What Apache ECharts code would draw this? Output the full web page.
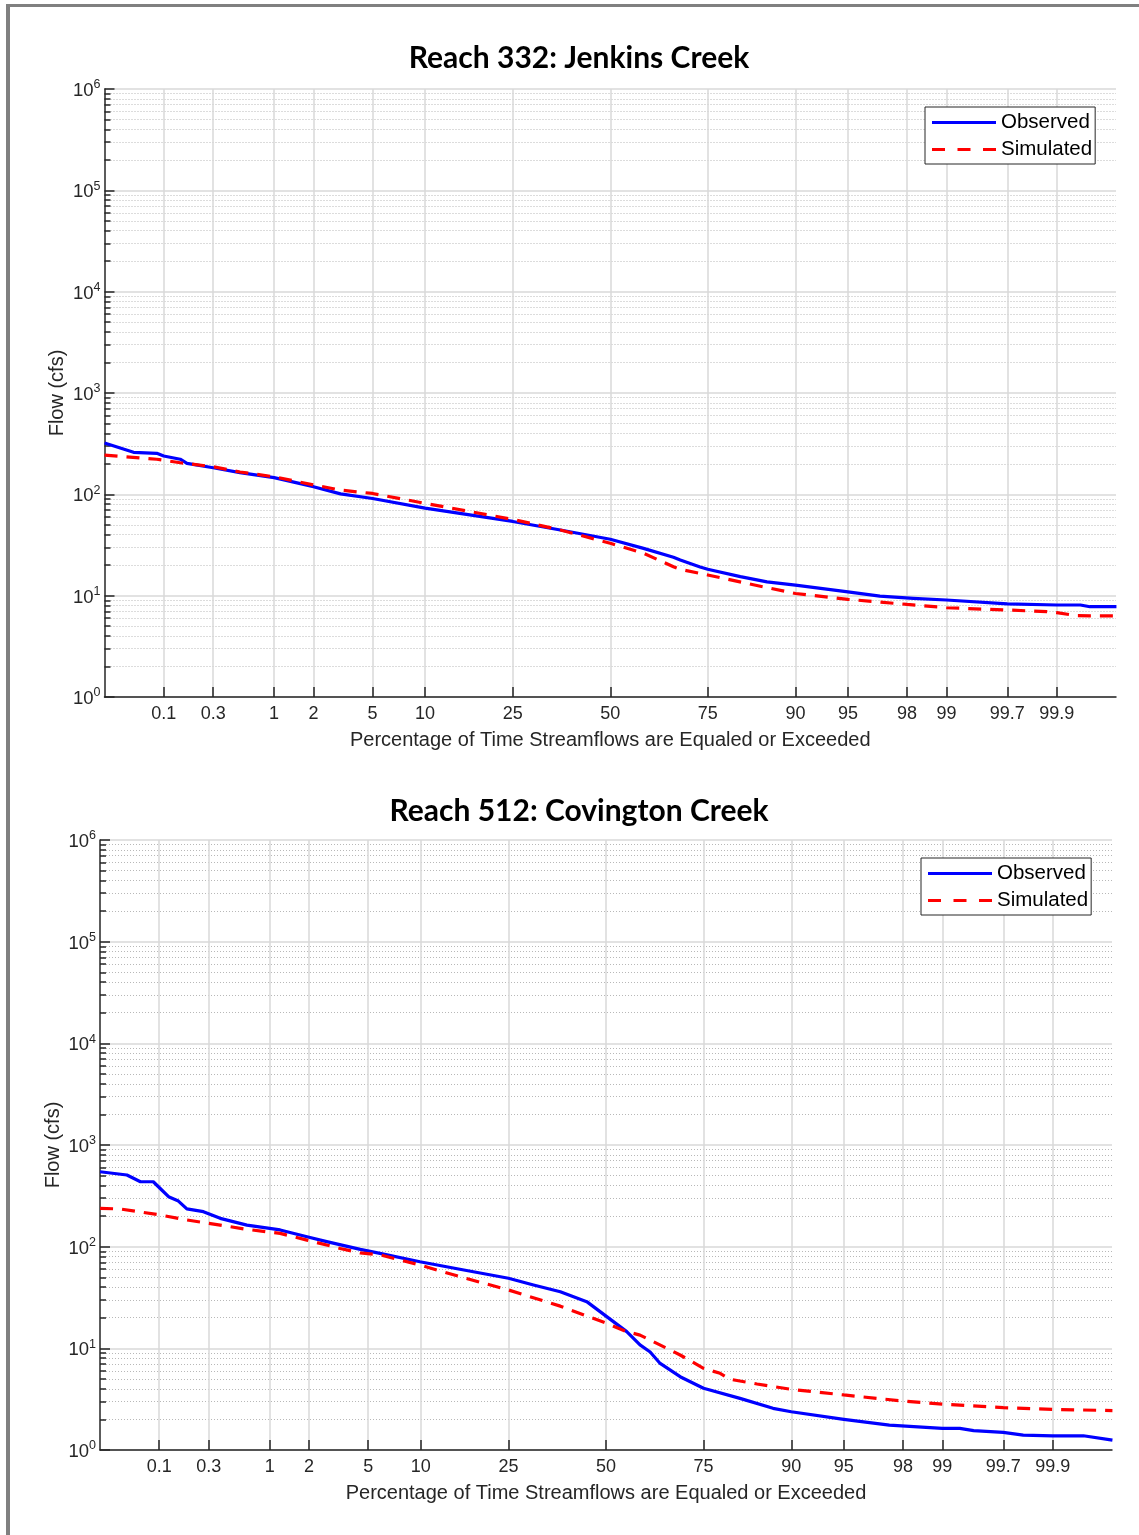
<!DOCTYPE html>
<html>
<head>
<meta charset="utf-8">
<title>Flow Duration Curves</title>
<script src="https://cdn.jsdelivr.net/npm/echarts@6/dist/echarts.min.js"></script>
<style>
  html, body { margin: 0; padding: 0; background: #ffffff; }
  #chart { width: 1139px; height: 1535px; }
</style>
</head>
<body>
<div id="chart"></div>
<script>
// Exceedance-probability ticks (percent of time)
const tickPercents = [0.1, 0.3, 1, 2, 5, 10, 25, 50, 75, 90, 95, 98, 99, 99.7, 99.9];
const tickLabels = ['0.1', '0.3', '1', '2', '5', '10', '25', '50', '75', '90', '95', '98', '99', '99.7', '99.9'];

// Reach 332: Jenkins Creek
const jenkinsObsPct = [0.0233, 0.0485, 0.085, 0.1, 0.146, 0.17, 0.3, 0.52, 1, 2, 3.1, 5, 10, 25, 36.5, 50, 59.1, 66.9, 68.6, 73.3, 75, 81.6, 86.1, 90, 95, 96.9, 98.2, 99, 99.7, 99.9, 99.943, 99.955, 99.977];
const jenkinsObsFlow = [321, 260, 254, 239, 222, 202, 183, 164, 146, 119, 101, 91, 73, 54, 44.5, 36, 29.3, 23.9, 22.5, 19.2, 18.2, 15.4, 13.7, 12.7, 10.9, 9.9, 9.4, 9.06, 8.3, 8.09, 8.09, 7.78, 7.78];
const jenkinsSimPct = [0.0233, 0.085, 0.146, 0.3, 0.52, 1, 2, 3.1, 5, 10, 25, 36.5, 50, 59.1, 66.9, 68.6, 73.3, 75, 82.8, 90, 95, 98, 99, 99.7, 99.874, 99.9, 99.938, 99.977];
const jenkinsSimFlow = [244, 222, 205, 187, 166, 149, 124, 110, 102, 81.5, 56.6, 44.5, 32.9, 26.2, 19.3, 18.2, 16.6, 16.0, 13.2, 10.5, 9.2, 8.2, 7.6, 7.22, 6.95, 6.8, 6.35, 6.3];

// Reach 512: Covington Creek
const covingtonObsPct = [0.0233, 0.046, 0.064, 0.087, 0.106, 0.124, 0.155, 0.187, 0.268, 0.381, 0.65, 1.21, 1.93, 2.67, 4.46, 5.9, 9.9, 15.6, 25, 30.8, 37.6, 44.7, 50.2, 55.7, 59.3, 62.0, 64.6, 69.6, 75, 82.3, 87.6, 90, 95, 97.5, 99, 99.28, 99.45, 99.7, 99.805, 99.9, 99.952, 99.977];
const covingtonObsFlow = [546, 507, 435, 435, 361, 310, 281, 235, 221, 190, 163, 146, 125, 112, 94, 86, 71, 59.9, 48.9, 42, 36, 28.8, 20.5, 14.6, 10.8, 9.2, 7.1, 5.26, 4.05, 3.22, 2.57, 2.38, 2.0, 1.76, 1.63, 1.63, 1.55, 1.49, 1.40, 1.38, 1.38, 1.25];
const covingtonSimPct = [0.0233, 0.039, 0.102, 0.187, 0.381, 0.65, 1.21, 1.93, 3.3, 4.46, 5.9, 9.9, 15.6, 25, 37.6, 50.2, 55.7, 59.3, 69.6, 75, 78.5, 80.5, 85.2, 90, 95, 98, 99, 99.7, 99.9, 99.977];
const covingtonSimFlow = [238, 235, 205, 183, 163, 148, 135, 116, 96, 87, 83, 66, 50.7, 37.5, 26, 17.6, 14.6, 13.5, 8.6, 6.36, 5.68, 4.96, 4.46, 3.95, 3.48, 3.03, 2.83, 2.61, 2.51, 2.44];

// Inverse standard normal CDF (Acklam's rational approximation),
// used to place exceedance percentages on a normal-probability axis.
function probit(p) {
  const a = [-39.69683028665376, 220.9460984245205, -275.9285104469687, 138.3577518672690, -30.66479806614716, 2.506628277459239];
  const b = [-54.47609879822406, 161.5858368580409, -155.6989798598866, 66.80131188771450, -13.28068155288572];
  const c = [-0.007784894002430293, -0.3223964580411365, -2.400758277161838, -2.549732539343734, 4.374664141464968, 2.938163982698783];
  const d = [0.007784695709041462, 0.3224671290700398, 2.445134137142996, 3.754408661907416];
  const pl = 0.02425, ph = 1 - pl;
  let q, r;
  if (p < pl) {
    q = Math.sqrt(-2 * Math.log(p));
    return (((((c[0] * q + c[1]) * q + c[2]) * q + c[3]) * q + c[4]) * q + c[5]) /
           ((((d[0] * q + d[1]) * q + d[2]) * q + d[3]) * q + 1);
  }
  if (p <= ph) {
    q = p - 0.5; r = q * q;
    return (((((a[0] * r + a[1]) * r + a[2]) * r + a[3]) * r + a[4]) * r + a[5]) * q /
           (((((b[0] * r + b[1]) * r + b[2]) * r + b[3]) * r + b[4]) * r + 1);
  }
  q = Math.sqrt(-2 * Math.log(1 - p));
  return -(((((c[0] * q + c[1]) * q + c[2]) * q + c[3]) * q + c[4]) * q + c[5]) /
          ((((d[0] * q + d[1]) * q + d[2]) * q + d[3]) * q + 1);
}

const tickZ = tickPercents.map(p => probit(p / 100));

// 2..9 within each decade, for minor ticks and dotted grid
const minorValues = [];
for (let k = 0; k < 6; k++) {
  for (let m = 2; m <= 9; m++) minorValues.push(m * Math.pow(10, k));
}

function toPoints(pcts, flows) {
  return pcts.map((p, i) => [probit(p / 100), flows[i]]);
}

const AXIS_FONT = '"Liberation Sans", Arial, sans-serif';
const AXIS_COLOR = '#262626';
const GRID_COLOR = '#d9d9d9';
const MINOR_GRID_COLOR = '#b8b8b8';

// legend swatches: a solid bar and three dashes, 64 x 3
const SOLID_ICON = 'path://M0,0h64v3h-64z';
const DASHED_ICON = 'path://M0,0h13v3h-13zM25.5,0h13v3h-13zM51,0h13v3h-13z';

const panels = [
  {
    title: 'Reach 332: Jenkins Creek', titleTop: 42,
    grid: { left: 104.5, top: 89, width: 1011.5, height: 608 },
    legendPos: { left: 925, top: 107 },
    obs: toPoints(jenkinsObsPct, jenkinsObsFlow),
    sim: toPoints(jenkinsSimPct, jenkinsSimFlow)
  },
  {
    title: 'Reach 512: Covington Creek', titleTop: 795,
    grid: { left: 100, top: 840, width: 1012, height: 610 },
    legendPos: { left: 921, top: 858 },
    obs: toPoints(covingtonObsPct, covingtonObsFlow),
    sim: toPoints(covingtonSimPct, covingtonSimFlow)
  }
];

const option = {
  animation: false,
  backgroundColor: '#ffffff',
  graphic: [
    { type: 'rect', shape: { x: 6, y: 4, width: 1133, height: 3 }, style: { fill: '#808080' }, silent: true },
    { type: 'rect', shape: { x: 6, y: 4, width: 4, height: 1531 }, style: { fill: '#808080' }, silent: true }
  ],
  title: [],
  legend: [],
  grid: [],
  xAxis: [],
  yAxis: [],
  series: []
};

panels.forEach((pn, i) => {
  option.title.push({
    text: pn.title,
    left: 579,
    textAlign: 'center',
    top: pn.titleTop,
    padding: 0,
    textStyle: { fontFamily: 'Lato, "Noto Sans", sans-serif', fontWeight: 'bold', fontSize: 30, lineHeight: 32, color: '#000000' }
  });

  option.grid.push(pn.grid);

  option.legend.push({
    left: pn.legendPos.left,
    top: pn.legendPos.top,
    orient: 'vertical',
    data: [
      { name: 'Observed', icon: SOLID_ICON },
      { name: 'Simulated', icon: DASHED_ICON }
    ],
    selectedMode: false,
    itemWidth: 64,
    itemHeight: 3,
    itemGap: 6,
    padding: [5, 3, 4, 7],
    borderColor: AXIS_COLOR,
    borderWidth: 1,
    borderRadius: 0,
    backgroundColor: '#ffffff',
    textStyle: { fontFamily: AXIS_FONT, fontSize: 20.5, lineHeight: 20, color: '#000000' }
  });

  option.xAxis.push({
    gridIndex: i,
    type: 'value',
    min: -3.5,
    max: 3.5,
    name: 'Percentage of Time Streamflows are Equaled or Exceeded',
    nameLocation: 'middle',
    nameGap: 33,
    nameTextStyle: { fontFamily: AXIS_FONT, fontSize: 20, color: AXIS_COLOR },
    axisLine: { show: true, onZero: false, lineStyle: { color: AXIS_COLOR, width: 1.5 } },
    axisTick: { show: true, inside: true, length: 10, customValues: tickZ, lineStyle: { color: AXIS_COLOR, width: 1.5 } },
    axisLabel: {
      customValues: tickZ,
      margin: 8,
      fontFamily: AXIS_FONT, fontSize: 18, color: AXIS_COLOR,
      formatter: v => {
        const idx = tickZ.findIndex(z => Math.abs(z - v) < 1e-6);
        return idx >= 0 ? tickLabels[idx] : '';
      }
    },
    splitLine: { show: true, lineStyle: { color: GRID_COLOR, width: 1.5 } }
  });

  // decade axis: labels, major ticks and major grid
  option.yAxis.push({
    gridIndex: i,
    type: 'log',
    logBase: 10,
    min: 1,
    max: 1000000,
    splitNumber: 6,
    position: 'left',
    name: 'Flow (cfs)',
    nameLocation: 'middle',
    nameMoveOverlap: false,
    nameGap: 37,
    nameTextStyle: { fontFamily: AXIS_FONT, fontSize: 20, color: AXIS_COLOR },
    axisLine: { show: true, onZero: false, lineStyle: { color: AXIS_COLOR, width: 1.5 } },
    axisTick: { show: true, inside: true, length: 10, lineStyle: { color: AXIS_COLOR, width: 1.5 } },
    axisLabel: {
      margin: 4,
      padding: [5, 0, 0, 0],
      formatter: v => '{b|10}{s|' + Math.round(Math.log10(v)) + '}',
      rich: {
        b: { fontFamily: AXIS_FONT, fontSize: 18.5, lineHeight: 18, color: AXIS_COLOR, verticalAlign: 'bottom' },
        s: { fontFamily: AXIS_FONT, fontSize: 12.5, lineHeight: 12, color: AXIS_COLOR, verticalAlign: 'bottom', padding: [0, 0, 9, 0] }
      }
    },
    splitLine: { show: true, lineStyle: { color: GRID_COLOR, width: 1.5 } }
  });

  // sub-decade axis: minor ticks and dotted minor grid
  option.yAxis.push({
    gridIndex: i,
    type: 'log',
    logBase: 10,
    min: 1,
    max: 1000000,
    position: 'left',
    offset: 0,
    axisLine: { show: false, onZero: false },
    axisLabel: { show: false },
    axisTick: { show: true, inside: true, length: 6, customValues: minorValues, lineStyle: { color: AXIS_COLOR, width: 1.5 } },
    splitLine: { show: true, lineStyle: { color: MINOR_GRID_COLOR, width: 1, type: [1, 2] } }
  });

  option.series.push({
    name: 'Observed',
    type: 'line',
    xAxisIndex: i,
    yAxisIndex: i * 2,
    data: pn.obs,
    symbol: 'none',
    z: 3,
    lineStyle: { color: '#0000ff', width: 3.2, join: 'round' },
    itemStyle: { color: '#0000ff' }
  });
  option.series.push({
    name: 'Simulated',
    type: 'line',
    xAxisIndex: i,
    yAxisIndex: i * 2,
    data: pn.sim,
    symbol: 'none',
    z: 4,
    lineStyle: { color: '#ff0000', width: 3.2, type: [13, 9] },
    itemStyle: { color: '#ff0000' }
  });
});

const chart = echarts.init(document.getElementById('chart'), null, { renderer: 'canvas' });
chart.setOption(option);
</script>
</body>
</html>
